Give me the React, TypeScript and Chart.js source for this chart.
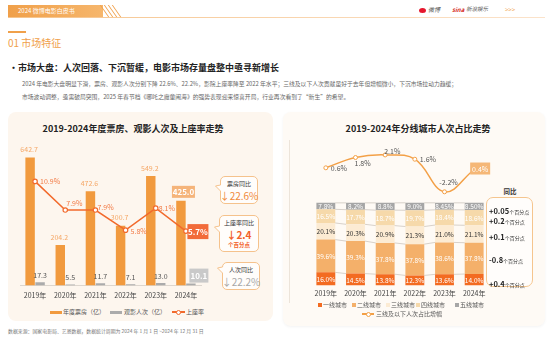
import React, { useEffect, useRef } from "react";
import { Chart, registerables } from "chart.js";
Chart.register(...registerables);

const FONT = '"Noto Sans CJK SC", "Noto Sans", sans-serif';

// ---- Left chart data ----
const years = ["2019年", "2020年", "2021年", "2022年", "2023年", "2024年"];
const boxOffice = [642.7, 204.2, 472.6, 300.7, 549.2, 425.0];
const admissions = [17.3, 5.5, 11.7, 7.1, 13.0, 10.1];
const occupancy = [10.9, 7.9, 7.9, 5.8, 8.1, 5.7];

// ---- Right chart data ----
const tier1 = [16.0, 14.5, 13.8, 12.3, 13.6, 14.0];
const tier2 = [39.6, 39.3, 37.8, 37.8, 38.6, 37.8];
const tier3 = [20.1, 20.3, 20.9, 21.3, 21.0, 21.1];
const tier4 = [16.5, 17.7, 18.7, 19.7, 18.4, 18.6];
const tier5 = [7.8, 8.2, 8.8, 9.0, 8.45, 8.5];
const tier5Labels = ["7.8%", "8.2%", "8.8%", "9.0%", "8.45%", "8.50%"];
const lowerTierGrowth = [0.6, 1.8, 2.1, 1.6, -2.2, 0.4];
const tierNames = ["一线城市", "二线城市", "三线城市", "四线城市", "五线城市"];
const yoyNumbers = ["+0.05", "+0.2", "+0.1", "-0.8", "+0.4"];

const ORANGE = "#F19A3E";
const GRAY = "#ABABAB";
const LINE_L = "#F26A2C";
const LINE_R = "#F3A047";
const TIER_COLORS = ["#F36B21", "#F4B06A", "#FCEBD3", "#F6D9AA", "#A6A6A6"];
const TIER_TEXT = ["#fff", "#fff", "#333", "#fff", "#fff"];

function drawBox(ctx: CanvasRenderingContext2D, cx: number, cy: number, w: number, h: number, fill: string, text: string, font: string) {
  ctx.fillStyle = fill;
  ctx.fillRect(cx - w / 2, cy - h / 2, w, h);
  ctx.fillStyle = "#fff";
  ctx.font = font;
  ctx.textAlign = "center";
  ctx.textBaseline = "middle";
  ctx.fillText(text, cx, cy + 0.5);
}

const leftLabels = {
  id: "leftLabels",
  afterDatasetsDraw(chart: any) {
    const ctx: CanvasRenderingContext2D = chart.ctx;
    ctx.save();
    const line = chart.getDatasetMeta(0).data;
    const ob = chart.getDatasetMeta(1).data;
    const gb = chart.getDatasetMeta(2).data;
    ctx.textBaseline = "middle";
    ob.forEach((el: any, i: number) => {
      if (i === 5) {
        drawBox(ctx, el.x + 2.5, el.y - 9, 23, 12, "#F5B47A", boxOffice[i].toFixed(1), `bold 8px ${FONT}`);
      } else {
        ctx.fillStyle = "#F5A868";
        ctx.font = `7px ${FONT}`;
        ctx.textAlign = "center";
        ctx.fillText(boxOffice[i].toFixed(1), el.x - 1, el.y - 8);
      }
    });
    gb.forEach((el: any, i: number) => {
      if (i === 5) {
        drawBox(ctx, el.x + 8, el.y - 8, 19, 14, "#C9C9C9", admissions[i].toFixed(1), `bold 8px ${FONT}`);
      } else {
        ctx.fillStyle = "#555";
        ctx.font = `7px ${FONT}`;
        ctx.textAlign = "center";
        ctx.fillText(admissions[i].toFixed(1), el.x, el.y - 7);
      }
    });
    const offs = [[5, 0], [1, -7], [2, -3], [5, 1], [3, 0]];
    line.forEach((el: any, i: number) => {
      if (i === 5) {
        drawBox(ctx, el.x + 12, el.y + 0.5, 21, 15, "#F26B3A", occupancy[i].toFixed(1) + "%", `bold 8px ${FONT}`);
      } else {
        ctx.fillStyle = "#F27A45";
        ctx.font = `7px ${FONT}`;
        ctx.textAlign = "left";
        ctx.fillText(occupancy[i].toFixed(1) + "%", el.x + offs[i][0], el.y + offs[i][1]);
      }
    });
    ctx.restore();
  },
};

const rightLabels = {
  id: "rightLabels",
  afterDatasetsDraw(chart: any) {
    const ctx: CanvasRenderingContext2D = chart.ctx;
    ctx.save();
    ctx.strokeStyle = "#BDB5AC";
    ctx.lineWidth = 0.6;
    for (let d = 1; d <= 5; d++) {
      const els = chart.getDatasetMeta(d).data;
      for (let i = 0; i < els.length - 1; i++) {
        const a = els[i], b = els[i + 1];
        ctx.beginPath();
        ctx.moveTo(a.x + a.width / 2, a.y);
        ctx.lineTo(b.x - b.width / 2, b.y);
        ctx.stroke();
      }
    }
    const series = [tier1, tier2, tier3, tier4, tier5];
    ctx.textAlign = "center";
    ctx.textBaseline = "middle";
    ctx.font = `6.5px ${FONT}`;
    for (let d = 1; d <= 5; d++) {
      const els = chart.getDatasetMeta(d).data;
      els.forEach((el: any, i: number) => {
        ctx.fillStyle = TIER_TEXT[d - 1];
        const txt = d === 5 ? tier5Labels[i] : series[d - 1][i].toFixed(1) + "%";
        ctx.fillText(txt, el.x, (el.y + el.base) / 2 + 0.5);
      });
    }
    const line = chart.getDatasetMeta(0).data;
    const offs: any[] = [[5, 1, "left"], [-1, 6, "left"], [-1, -4, "left"], [5, 0, "left"], [4, -9, "center"]];
    line.forEach((el: any, i: number) => {
      if (i === 5) {
        drawBox(ctx, el.x + 6, el.y - 1, 20, 12, "#F5B777", lowerTierGrowth[i].toFixed(1) + "%", `7px ${FONT}`);
      } else {
        ctx.fillStyle = "#555";
        ctx.font = `7px ${FONT}`;
        ctx.textAlign = offs[i][2];
        ctx.fillText(lowerTierGrowth[i].toFixed(1) + "%", el.x + offs[i][0], el.y + offs[i][1]);
      }
    });
    ctx.restore();
  },
};

function LeftChart() {
  const ref = useRef<HTMLCanvasElement>(null);
  useEffect(() => {
    const chart = new Chart(ref.current as HTMLCanvasElement, {
      type: "bar",
      data: {
        labels: years,
        datasets: [
          { type: "line", label: "上座率", data: occupancy, yAxisID: "y1", borderColor: LINE_L, borderWidth: 1.5, pointRadius: 2.2, pointBackgroundColor: "#fff", pointBorderColor: LINE_L, pointBorderWidth: 1.2, tension: 0, order: 0 } as any,
          { type: "bar", label: "年度票房（亿）", data: boxOffice, yAxisID: "y", backgroundColor: ORANGE, barPercentage: 0.95, categoryPercentage: 0.66, order: 1 },
          { type: "bar", label: "观影人次（亿）", data: admissions, yAxisID: "y", backgroundColor: GRAY, barPercentage: 0.95, categoryPercentage: 0.66, order: 2 },
        ],
      },
      options: {
        responsive: false,
        animation: false,
        layout: { padding: { left: 10, right: 9, top: 6, bottom: 0 } },
        plugins: { legend: { display: false }, tooltip: { enabled: false } },
        scales: {
          x: { grid: { display: false, drawTicks: false }, border: { display: true, color: "#DDD6CE" }, ticks: { color: "#444", font: { size: 7, family: FONT }, padding: 6 } },
          y: { display: false, min: 0, max: 700 },
          y1: { display: false, min: 0, max: 14.6 },
        },
      } as any,
      plugins: [leftLabels],
    });
    return () => chart.destroy();
  }, []);
  return <canvas ref={ref} width={200} height={166} style={{ position: "absolute", left: 10, top: 140, width: 200, height: 166 }} />;
}

function RightChart() {
  const ref = useRef<HTMLCanvasElement>(null);
  useEffect(() => {
    const series = [tier1, tier2, tier3, tier4, tier5];
    const chart = new Chart(ref.current as HTMLCanvasElement, {
      type: "bar",
      data: {
        labels: years,
        datasets: [
          { type: "line", label: "三线及以下人次占比增幅", data: lowerTierGrowth, yAxisID: "y1", borderColor: LINE_R, borderWidth: 1.5, pointRadius: 2, pointBackgroundColor: "#fff", pointBorderColor: LINE_R, pointBorderWidth: 1, tension: 0.4, order: 0 } as any,
          ...series.map((s, k) => ({ type: "bar", label: tierNames[k], data: s, yAxisID: "y", backgroundColor: TIER_COLORS[k], barPercentage: 0.95, categoryPercentage: 0.67, order: 1 })),
        ],
      },
      options: {
        responsive: false,
        animation: false,
        layout: { padding: { left: 11, right: 11, top: 5, bottom: 0 } },
        plugins: { legend: { display: false }, tooltip: { enabled: false } },
        scales: {
          x: { stacked: true, grid: { display: false, drawTicks: false }, border: { display: false }, ticks: { color: "#444", font: { size: 7, family: FONT }, padding: 4 } },
          y: { display: false, stacked: true, min: 0, max: 176 },
          y1: { display: false, min: -13.13, max: 3.84 },
        },
      } as any,
      plugins: [rightLabels],
    });
    return () => chart.destroy();
  }, []);
  return <canvas ref={ref} width={200} height={167} style={{ position: "absolute", left: 300, top: 135, width: 200, height: 167 }} />;
}

function Txt(p: any) {
  const tx = p.align === "center" ? "-50%" : p.align === "right" ? "-100%" : "0";
  return (
    <div style={{ position: "absolute", left: p.x, top: p.y, fontSize: p.size, color: p.color || "#333", fontWeight: p.weight || 400, lineHeight: 1, whiteSpace: "nowrap", transform: `translate(${tx}, -50%)`, ...(p.style || {}) }}>
      {p.children}
    </div>
  );
}

function Bubble(p: any) {
  const { x, y, w, h, ny } = p;
  const r = 5;
  const d = `M${r + 5},0.5 H${w - r} A${r - 0.5},${r - 0.5} 0 0 1 ${w - 0.5},${r} V${h - r} A${r - 0.5},${r - 0.5} 0 0 1 ${w - r},${h - 0.5} H${r + 5} A${r - 0.5},${r - 0.5} 0 0 1 5.5,${h - r} V${ny + 3} L0.5,${ny - 2} L5.5,${ny - 3} V${r} A${r - 0.5},${r - 0.5} 0 0 1 ${r + 5},0.5 Z`;
  return (
    <div style={{ position: "absolute", left: x - 5, top: y, width: w, height: h }}>
      <svg width={w} height={h} style={{ position: "absolute", left: 0, top: 0 }}>
        <path d={d} fill="#FFFDFB" stroke="#F5C28C" strokeWidth={1} />
      </svg>
      {p.children}
    </div>
  );
}

function LegendRect({ x, y, color, w = 12, h = 3 }: any) {
  return <div style={{ position: "absolute", left: x, top: y - h / 2, width: w, height: h, background: color }} />;
}

export default function App() {
  const stripes = [104, 108, 112, 116];
  return (
    <div style={{ position: "fixed", left: 0, top: 0, width: 550, height: 346, overflow: "hidden", background: "#fff", fontFamily: FONT }}>
      {/* header */}
      <div style={{ position: "absolute", left: 8, top: 5, width: 95, height: 12, background: "linear-gradient(90deg,#F0A04A,#F6B66C)" }} />
      <Txt x={18} y={11} size={6} color="#fff">2024 微博电影白皮书</Txt>
      {stripes.map((s) => (
        <div key={s} style={{ position: "absolute", left: s, top: 5, width: 1.3, height: 12, background: "#F0A04A", transform: "skewX(35deg)" }} />
      ))}
      <div style={{ position: "absolute", left: 8, top: 17, width: 537, height: 1, background: "linear-gradient(90deg,#F6C48C,#FBE3CB)" }} />
      <div style={{ position: "absolute", left: 419, top: 8, width: 7, height: 5, borderRadius: "50%", background: "#E6162D" }} />
      <Txt x={428} y={10} size={6} color="#555" style={{ fontStyle: "italic" }}>微博</Txt>
      <Txt x={452} y={10} size={6} color="#D52B1E" weight={700} style={{ fontStyle: "italic" }}>sina</Txt>
      <Txt x={466} y={10} size={5.5} color="#555" style={{ fontStyle: "italic" }}>新浪娱乐</Txt>
      <Txt x={505} y={10} size={6} color="#F0A04A">{">>>"}</Txt>

      <div style={{ position: "absolute", left: 8, top: 31, width: 18, height: 1.5, background: "#F0A04A" }} />
      <Txt x={8} y={43} size={10} color="#F0A04A">01  市场特征</Txt>

      <Txt x={9} y={67} size={9} color="#222" weight={700}>·</Txt>
      <Txt x={18} y={67} size={9} color="#222" weight={700}>市场大盘：人次回落、下沉暂缓，电影市场存量盘整中亟寻新增长</Txt>
      <Txt x={22} y={84} size={5.8} color="#666">2024 年电影大盘明显下滑，票房、观影人次分别下降 22.6%、22.2%，影院上座率降至 2022 年水平；三线及以下人次贡献虽好于去年但增幅微小，下沉市场拉动力趋缓；</Txt>
      <Txt x={22} y={97} size={5.8} color="#666">市场波动调整，亟需破局突围，2025 年春节档《哪吒之魔童闹海》的强势表现迎来惊喜开局，行业再次看到了“新生”的希望。</Txt>

      {/* panels */}
      <div style={{ position: "absolute", left: 8, top: 112, width: 265, height: 209, borderRadius: 8, background: "#FDF6EE" }} />
      <div style={{ position: "absolute", left: 283, top: 112, width: 262, height: 214, borderRadius: 8, background: "#FEFAF5", boxShadow: "0 1px 3px rgba(0,0,0,0.05)" }} />
      <div style={{ position: "absolute", left: 289, top: 140, width: 1, height: 163, background: "#ECE4DA" }} />

      <Txt x={133} y={128} size={9} color="#222" weight={700} align="center">2019-2024年度票房、观影人次及上座率走势</Txt>
      <Txt x={418} y={128} size={9} color="#222" weight={700} align="center">2019-2024年分线城市人次占比走势</Txt>

      <LeftChart />
      <RightChart />

      {/* left callouts */}
      <Bubble x={220} y={176} w={43} h={28} ny={12}>
        <Txt x={24} y={8} size={6} color="#333" align="center">票房同比</Txt>
        <Txt x={24} y={20} size={10} color="#F08A3A" align="center">↓22.6%</Txt>
      </Bubble>
      <Bubble x={219} y={215} w={45} h={37} ny={14}>
        <Txt x={25} y={8} size={6} color="#333" align="center">上座率同比</Txt>
        <Txt x={25} y={20} size={10} color="#F2612A" weight={700} align="center">↓2.4</Txt>
        <Txt x={25} y={31} size={5.5} color="#F2612A" weight={700} align="center">个百分点</Txt>
      </Bubble>
      <Bubble x={222} y={262} w={43} h={28} ny={8}>
        <Txt x={24} y={8} size={6} color="#333" align="center">人次同比</Txt>
        <Txt x={24} y={20} size={10} color="#A8A8A8" align="center">↓22.2%</Txt>
      </Bubble>

      {/* left legend */}
      <LegendRect x={50} y={312} color={ORANGE} />
      <Txt x={63} y={312} size={6} color="#555">年度票房（亿）</Txt>
      <LegendRect x={110} y={312} color={GRAY} />
      <Txt x={124} y={312} size={6} color="#555">观影人次（亿）</Txt>
      <LegendRect x={172} y={312} color={LINE_L} w={13} h={1.5} />
      <div style={{ position: "absolute", left: 176, top: 309.5, width: 3, height: 3, borderRadius: "50%", background: "#fff", border: `1px solid ${LINE_L}` }} />
      <Txt x={186} y={312} size={6} color="#555">上座率</Txt>

      {/* right yoy box */}
      <Txt x={510} y={191} size={6.5} color="#333" weight={700} align="center">同比</Txt>
      <div style={{ position: "absolute", left: 486, top: 197, width: 45, height: 88, border: "1px solid #F5C58E", borderRadius: 7, background: "rgba(255,255,255,0.6)" }} />
      {[207, 217, 233, 256, 280].map((yy, i) => (
        <div key={i} style={{ position: "absolute", left: 489, top: yy, transform: "translateY(-50%)", whiteSpace: "nowrap", lineHeight: 1 }}>
          <span style={{ fontSize: 7.5, fontWeight: 700, color: "#222" }}>{yoyNumbers[i]}</span>
          <span style={{ fontSize: 5, color: "#333" }}>个百分点</span>
        </div>
      ))}

      {/* right legend */}
      {[318, 352, 386, 416, 455].map((lx, i) => (
        <React.Fragment key={i}>
          <div style={{ position: "absolute", left: lx, top: 302.5, width: 4, height: 4, background: TIER_COLORS[i] }} />
          <Txt x={lx + 5} y={305} size={6} color="#555">{tierNames[i]}</Txt>
        </React.Fragment>
      ))}
      <LegendRect x={362} y={314} color={LINE_R} w={12} h={1.5} />
      <div style={{ position: "absolute", left: 366, top: 311.5, width: 3, height: 3, borderRadius: "50%", background: "#fff", border: `1px solid ${LINE_R}` }} />
      <Txt x={376} y={314} size={6} color="#555">三线及以下人次占比增幅</Txt>

      <Txt x={8} y={331} size={4.9} color="#777">数据来源：国家电影局、艺恩数据，数据统计周期为 2024 年 1 月 1 日 ~2024 年 12 月 31 日</Txt>
    </div>
  );
}
